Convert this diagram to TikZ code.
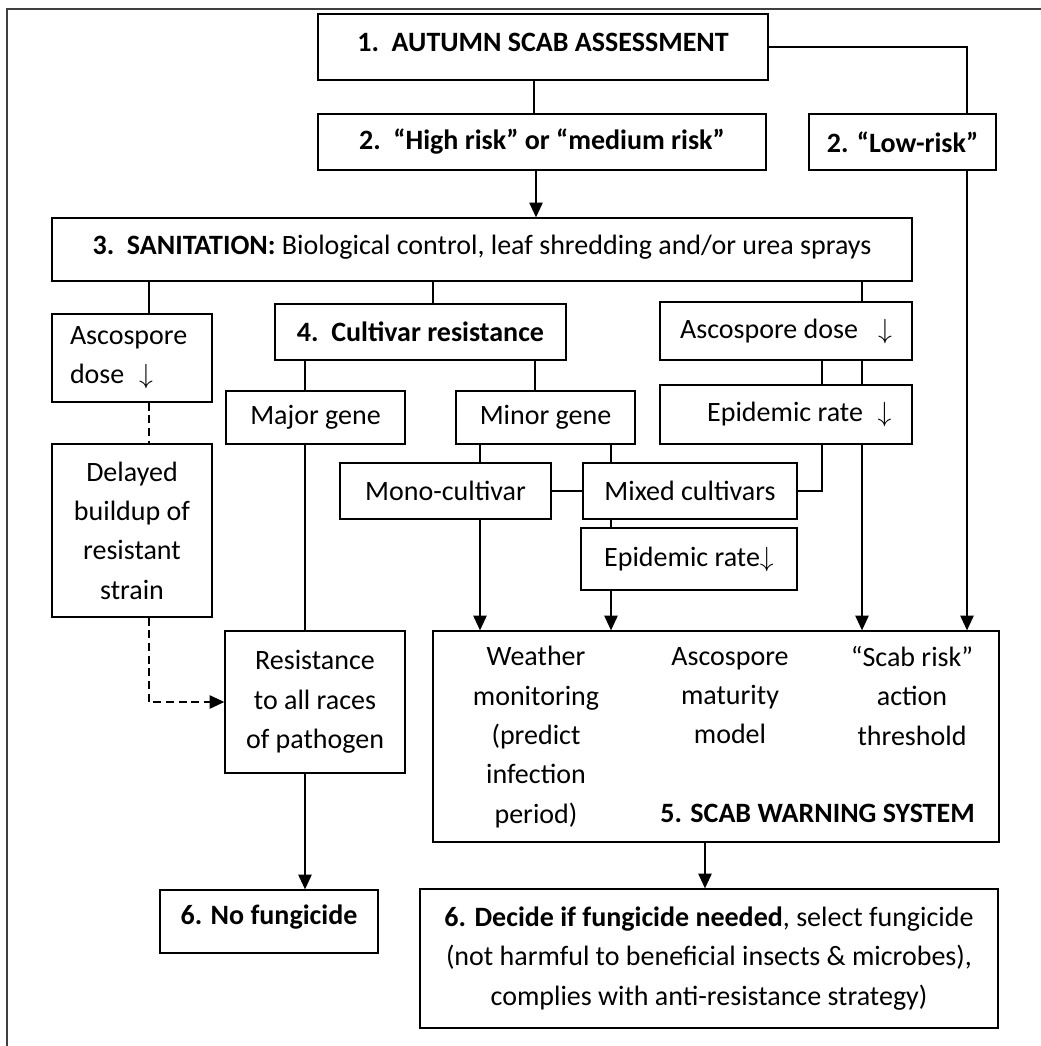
\documentclass[tikz,border=0pt]{standalone}
\usepackage{fontspec}
\setmainfont{Carlito}
\usetikzlibrary{arrows.meta,calc}
\begin{document}
\begin{tikzpicture}[x=0.75pt,y=-0.75pt,
  box/.style={draw,line width=1pt,inner sep=0pt,align=center,font=\fontsize{21pt}{29.5pt}\selectfont},
  bx/.style 2 args={minimum width=#1*0.75pt,minimum height=#2*0.75pt},
  ln/.style={line width=1pt},
  arr/.style={line width=1pt,-{Triangle[length=11pt,width=10pt]}},
  dsh/.style={line width=1pt,dash pattern=on 6pt off 3.5pt},
  txt/.style={inner sep=0pt,align=center,font=\fontsize{21pt}{29.5pt}\selectfont},
  frame/.style={line width=1.6pt,draw=black!75,line join=miter}]
\useasboundingbox (0,0) rectangle (1041,1046);
\draw[frame] (7,1046) -- (7,9) -- (1041,9);

\node[box,bx={450}{66},text height=13.5pt,text depth=7.5pt] (b1) at (543,47) {\textbf{1.\ \ AUTUMN SCAB ASSESSMENT}};
\node[box,bx={448}{56}] (b2) at (542,142) {\textbf{2.\ \ “High risk” or “medium risk”}};
\node[box,bx={187}{56}] (low) at (902.5,142) {\textbf{2. “Low-risk”}};
\node[box,bx={860}{63},text height=15.75pt,text depth=9pt] (b3) at (482,249.5) {\textbf{3.\ \ SANITATION:} Biological control, leaf shredding and/or urea sprays};
\node[box,bx={160}{88},text width=93pt,inner xsep=13.5pt,align=left] (asl) at (132,358) {Ascospore\\dose\hspace{11pt}$\downarrow$};
\node[box,bx={291}{56}] (b4) at (420.5,332) {\textbf{4.\ \ Cultivar resistance}};
\node[box,bx={252}{58}] (asr) at (786,331) {Ascospore dose\hspace{15pt}$\downarrow$};
\node[box,bx={179}{53}] (major) at (315.5,417.5) {Major gene};
\node[box,bx={179}{53}] (minor) at (545.5,417.5) {Minor gene};
\node[box,bx={252}{59}] (epr) at (786,414.5) {\hspace*{20pt}Epidemic rate\hspace{11pt}$\downarrow$};
\node[box,bx={160}{173}] (del) at (132,530.5) {Delayed\\buildup of\\resistant\\strain};
\node[box,bx={211}{56}] (mono) at (445.5,491) {Mono-cultivar};
\node[box,bx={214}{56}] (mixed) at (690,491) {Mixed cultivars};
\node[box,bx={216}{62}] (epl) at (689,559) {Epidemic rate$\downarrow$};
\node[box,bx={180}{142}] (res) at (315,702) {Resistance\\to all races\\of pathogen};
\node[box,bx={566}{211}] (scab) at (716,736.5) {};
\node[txt,anchor=north] (wm) at (536,646) {Weather\\monitoring\\(predict\\infection\\period)};
\node[txt,anchor=north] (amm) at (730,647) {Ascospore\\maturity\\model};
\node[txt,anchor=north] (srt) at (912,646) {“Scab risk”\\action\\threshold};
\node[txt,anchor=base] (sws) at (817.5,822) {\textbf{5. SCAB WARNING SYSTEM}};
\node[box,bx={218}{63},text height=15.75pt,text depth=11.25pt] (nof) at (269,921.5) {\textbf{6. No fungicide}};
\node[box,bx={578}{139}] (dec) at (709,958.5) {\textbf{6. Decide if fungicide needed}, select fungicide\\(not harmful to beneficial insects \& microbes),\\complies with anti-resistance strategy)};

\draw[ln] (b1.east) -| (low.north -| 967,0);
\draw[ln] (b1.south -| 534,0) -- (b2.north -| 534,0);
\draw[arr] (b2.south -| 536,0) -- (b3.north -| 536,0);
\draw[arr] (low.south -| 967,0) -- (scab.north -| 967,0);
\draw[ln] (b3.south -| 149,0) -- (asl.north -| 149,0);
\draw[ln] (b3.south -| 433,0) -- (b4.north -| 433,0);
\draw[ln] (b3.south -| 862,0) -- (asr.north -| 862,0);
\draw[dsh] (asl.south -| 149,0) -- (del.north -| 149,0);
\draw[dsh,-{Triangle[length=11pt,width=10pt]}] (del.south -| 149,0) |- (res.west);
\draw[ln] (b4.south -| 305,0) -- (major.north -| 305,0);
\draw[ln] (major.south -| 305,0) -- (res.north -| 305,0);
\draw[arr] (res.south -| 305,0) -- (nof.north -| 305,0);
\draw[ln] (b4.south -| 535,0) -- (minor.north -| 535,0);
\draw[ln] (minor.south -| 480,0) -- (mono.north -| 480,0);
\draw[ln] (minor.south -| 611,0) -- (mixed.north -| 611,0);
\draw[ln] (mono.east) -- (mixed.west);
\draw[ln] (mixed.south -| 611,0) -- (epl.north -| 611,0);
\draw[arr] (epl.south -| 611,0) -- (scab.north -| 611,0);
\draw[arr] (mono.south -| 480,0) -- (scab.north -| 480,0);
\draw[ln] (asr.south -| 822,0) -- (epr.north -| 822,0);
\draw[ln] (asr.south -| 862,0) -- (epr.north -| 862,0);
\draw[ln] (epr.south -| 822,0) |- (mixed.east);
\draw[arr] (epr.south -| 862,0) -- (scab.north -| 862,0);
\draw[arr] (scab.south -| 705,0) -- (dec.north -| 705,0);
\end{tikzpicture}
\end{document}
